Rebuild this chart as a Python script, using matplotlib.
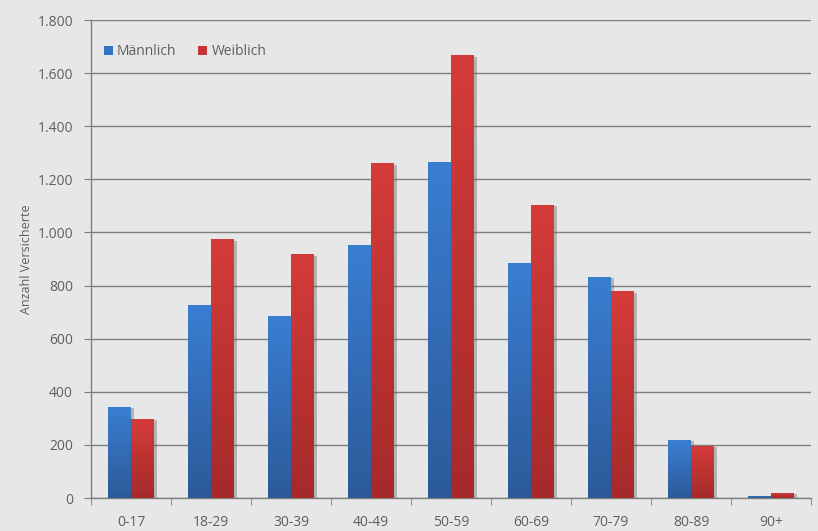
import numpy as np
import matplotlib
matplotlib.use("Agg")
import matplotlib.pyplot as plt
from matplotlib.ticker import FuncFormatter, MultipleLocator
from matplotlib import patheffects as pe
from matplotlib.colors import LinearSegmentedColormap

categories = ["0-17", "18-29", "30-39", "40-49", "50-59", "60-69", "70-79", "80-89", "90+"]
maennlich = [344, 725, 685, 954, 1266, 884, 833, 218, 8]
weiblich = [299, 974, 917, 1261, 1667, 1104, 778, 197, 20]
series_names = ["Männlich", "Weiblich"]
ylabel = "Anzahl Versicherte"

bg = "#e7e7e7"
txt = "#5f5f5f"
plt.rcParams['font.family'] = ['Open Sans', 'DejaVu Sans']

fig = plt.figure(figsize=(8.18, 5.31), dpi=100, facecolor=bg)
ax = fig.add_axes([91/818, 1-498/531, (811-91)/818, (498-20)/531])
ax.set_facecolor(bg)

x = np.arange(len(categories))
w = 0.2875
blue_cmap = LinearSegmentedColormap.from_list("b", ["#2c5a98", "#3a7ed2"])
red_cmap = LinearSegmentedColormap.from_list("r", ["#a52a2a", "#d43c3a"])

bars_m = ax.bar(x - w/2, maennlich, w, color="#3374c4", label=series_names[0], zorder=3)
bars_w = ax.bar(x + w/2, weiblich, w, color="#c83232", label=series_names[1], zorder=3)

leg = ax.legend(loc="upper left", bbox_to_anchor=(0.0, 0.975), ncol=2, frameon=False,
                handlelength=0.65, handleheight=0.65, handletextpad=0.3, columnspacing=1.6,
                fontsize=10, labelcolor=txt)

shadow = [pe.SimplePatchShadow(offset=(2, -1), alpha=0.35, shadow_rgbFace="#555555"), pe.Normal()]
for b in list(bars_m) + list(bars_w):
    b.set_path_effects(shadow)

grad = np.linspace(0, 1, 256).reshape(-1, 1)
for bars, cmap in ((bars_m, blue_cmap), (bars_w, red_cmap)):
    for b in bars:
        x0, y0 = b.get_x(), b.get_y()
        bw, bh = b.get_width(), b.get_height()
        if bh <= 0:
            continue
        im = ax.imshow(grad, cmap=cmap, origin="lower", aspect="auto",
                       extent=(x0, x0 + bw, y0, y0 + bh), zorder=4)
        im.set_clip_path(b)

ax.set_xlim(-0.5, len(categories) - 0.5)
ax.set_ylim(0, 1800)
ax.yaxis.set_major_locator(MultipleLocator(200))
ax.yaxis.set_major_formatter(FuncFormatter(lambda v, p: f"{int(v):,}".replace(",", ".")))
ax.grid(axis="y", color="#7f7f7f", linewidth=1.0, zorder=0)
ax.set_axisbelow(True)

ax.set_xticks(x)
ax.set_xticklabels(categories)
ax.set_xticks(np.arange(-0.5, len(categories) + 0.5, 1), minor=True)
ax.tick_params(axis="x", which="major", length=0, pad=12, labelsize=10, labelcolor=txt)
ax.tick_params(axis="x", which="minor", length=5, color="#7f7f7f", direction="out")
ax.tick_params(axis="y", length=5, color="#7f7f7f", labelsize=10, labelcolor=txt, pad=8)

for s in ["top", "right"]:
    ax.spines[s].set_visible(False)
for s in ["left", "bottom"]:
    ax.spines[s].set_color("#7f7f7f")
    ax.spines[s].set_linewidth(1.0)

ax.set_ylabel(ylabel, fontsize=9, color=txt, labelpad=3)

fig.savefig("out.png", dpi=100, facecolor=bg)
